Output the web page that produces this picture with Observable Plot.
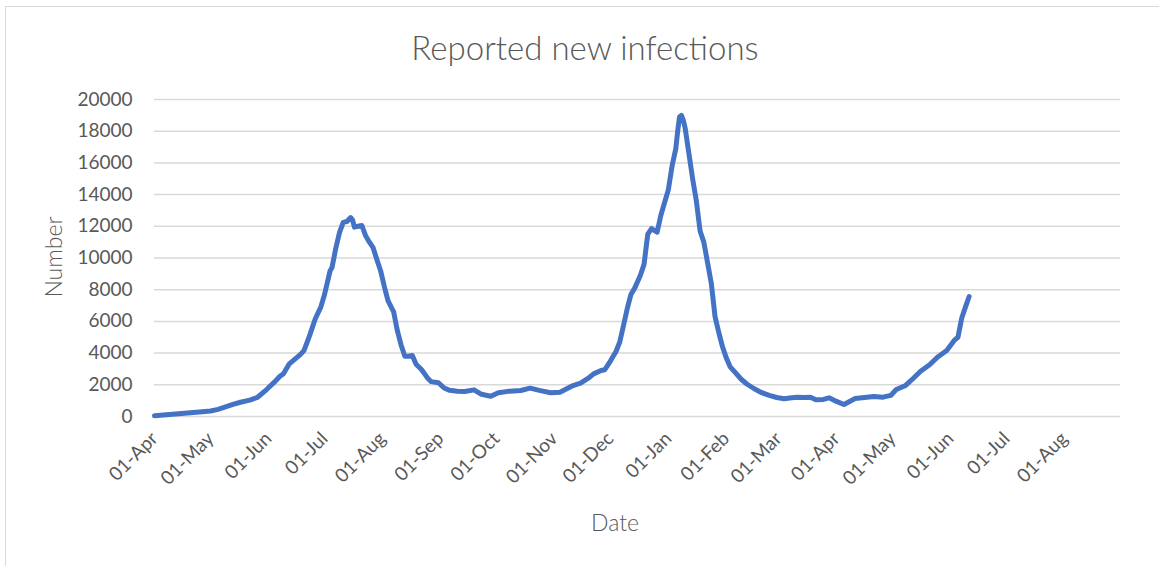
<!DOCTYPE html>
<html>
<head>
<meta charset="utf-8">
<script src="https://cdn.jsdelivr.net/npm/d3@7"></script>
<script src="https://cdn.jsdelivr.net/npm/@observablehq/plot@0.6"></script>
<style>
  html, body { margin: 0; padding: 0; background: #fff; }
  #wrap { position: relative; width: 1159px; height: 566px; overflow: hidden; font-family: Lato, "Open Sans", sans-serif; color: #595959; }
  #frame { position: absolute; left: 5px; top: 6px; width: 1200px; height: 600px; border-left: 1.5px solid #d9d9d9; border-top: 1.5px solid #d9d9d9; }
  #title { position: absolute; left: 0; width: 1170px; top: 27px; text-align: center; font-size: 33px; font-weight: 300; }
  #ylab { position: absolute; left: 53px; top: 257px; transform: translate(-50%, -50%) rotate(-90deg); font-size: 23px; font-weight: 300; white-space: nowrap; }
  #xlab { position: absolute; left: 615px; top: 522px; transform: translate(-50%, -50%); font-size: 23px; font-weight: 300; }
  #chart { position: absolute; left: 0; top: 0; }
</style>
</head>
<body>
<div id="wrap">
  <div id="frame"></div>
  <div id="chart"></div>
  <div id="title">Reported new infections</div>
  <div id="ylab">Number</div>
  <div id="xlab">Date</div>
</div>
<script>
const dates = [
  "2020-04-01","2020-04-09","2020-04-17","2020-04-25","2020-05-01","2020-05-05","2020-05-09","2020-05-13","2020-05-17","2020-05-22",
  "2020-05-26","2020-05-31","2020-06-04","2020-06-07","2020-06-09","2020-06-12","2020-06-15","2020-06-18","2020-06-20","2020-06-23",
  "2020-06-26","2020-06-29","2020-07-01","2020-07-04","2020-07-05","2020-07-07","2020-07-09","2020-07-11","2020-07-13","2020-07-15",
  "2020-07-16","2020-07-17","2020-07-19","2020-07-21","2020-07-23","2020-07-25","2020-07-27","2020-07-29","2020-07-31","2020-08-02",
  "2020-08-04","2020-08-07","2020-08-09","2020-08-11","2020-08-13","2020-08-15","2020-08-17","2020-08-19","2020-08-22","2020-08-25",
  "2020-08-27","2020-08-31","2020-09-03","2020-09-06","2020-09-10","2020-09-14","2020-09-19","2020-09-23","2020-09-28","2020-10-02",
  "2020-10-08","2020-10-14","2020-10-19","2020-10-24","2020-10-30","2020-11-04","2020-11-11","2020-11-15","2020-11-19","2020-11-22",
  "2020-11-26","2020-11-28","2020-12-01","2020-12-04","2020-12-06","2020-12-08","2020-12-10","2020-12-12","2020-12-14","2020-12-17",
  "2020-12-19","2020-12-21","2020-12-23","2020-12-26","2020-12-28","2020-12-30","2021-01-01","2021-01-03","2021-01-05","2021-01-06",
  "2021-01-07","2021-01-08","2021-01-09","2021-01-10","2021-01-12","2021-01-14","2021-01-16","2021-01-18","2021-01-20","2021-01-22",
  "2021-01-24","2021-01-26","2021-01-28","2021-01-30","2021-02-01","2021-02-03","2021-02-06","2021-02-09","2021-02-12","2021-02-16",
  "2021-02-20","2021-02-24","2021-02-28","2021-03-04","2021-03-08","2021-03-11","2021-03-15","2021-03-18","2021-03-21","2021-03-25",
  "2021-03-28","2021-04-01","2021-04-05","2021-04-08","2021-04-11","2021-04-16","2021-04-21","2021-04-26","2021-04-30","2021-05-03",
  "2021-05-08","2021-05-12","2021-05-16","2021-05-21","2021-05-25","2021-05-30","2021-06-03","2021-06-05","2021-06-07","2021-06-09",
  "2021-06-11"
];
const infections = [
  50,120,200,280,350,450,600,760,900,1030,
  1200,1700,2150,2520,2700,3300,3600,3900,4160,5100,
  6150,6900,7700,9200,9400,10600,11600,12250,12300,12550,
  12400,11950,12000,12050,11400,11000,10650,9900,9200,8200,
  7300,6600,5400,4500,3800,3800,3850,3300,2950,2450,
  2200,2130,1800,1650,1600,1580,1680,1400,1280,1500,
  1600,1640,1790,1650,1500,1530,1950,2100,2400,2690,
  2900,2950,3500,4100,4700,5740,6800,7700,8100,8900,
  9600,11500,11850,11630,12700,13500,14300,15800,16900,18000,
  18900,19000,18700,18200,16600,15000,13600,11700,11000,9700,
  8400,6300,5300,4400,3700,3150,2750,2350,2050,1750,
  1500,1330,1200,1120,1180,1220,1200,1220,1050,1080,
  1180,950,760,950,1130,1200,1260,1220,1330,1700,
  1960,2400,2860,3280,3740,4160,4800,5000,6200,6900,
  7570
];
const yTicks = [0,2000,4000,6000,8000,10000,12000,14000,16000,18000,20000];
const xTickDates = [
  "2020-04-01","2020-05-01","2020-06-01","2020-07-01","2020-08-01","2020-09-01","2020-10-01","2020-11-01",
  "2020-12-01","2021-01-01","2021-02-01","2021-03-01","2021-04-01","2021-05-01","2021-06-01","2021-07-01","2021-08-01"
];
const xDomain = ["2020-04-01","2021-08-31"];

const data = dates.map((d, i) => ({date: new Date(d), value: infections[i]}));

const chart = Plot.plot({
  width: 1159,
  height: 566,
  marginLeft: 154,
  marginRight: 39,
  marginTop: 99,
  marginBottom: 150,
  style: {fontFamily: "Lato, 'Open Sans', sans-serif", background: "transparent", color: "#595959"},
  x: {type: "utc", domain: xDomain.map(d => new Date(d))},
  y: {domain: [0, 20000]},
  marks: [
    Plot.ruleY(yTicks, {stroke: "#d9d9d9", strokeWidth: 1.5, strokeOpacity: 1}),
    Plot.axisY(yTicks, {tickSize: 0, tickPadding: 22, fontSize: 19, fill: "#595959", label: null, tickFormat: d3.format("d")}),
    Plot.axisX(xTickDates.map(d => new Date(d)), {tickSize: 0, tickPadding: 19, tickRotate: -45, fontSize: 19, fill: "#595959", label: null, tickFormat: d3.utcFormat("%d-%b")}),
    Plot.line(data, {x: "date", y: "value", stroke: "#4472c4", strokeWidth: 5, strokeLinejoin: "round", strokeLinecap: "round"})
  ]
});
document.getElementById("chart").appendChild(chart);
</script>
</body>
</html>
